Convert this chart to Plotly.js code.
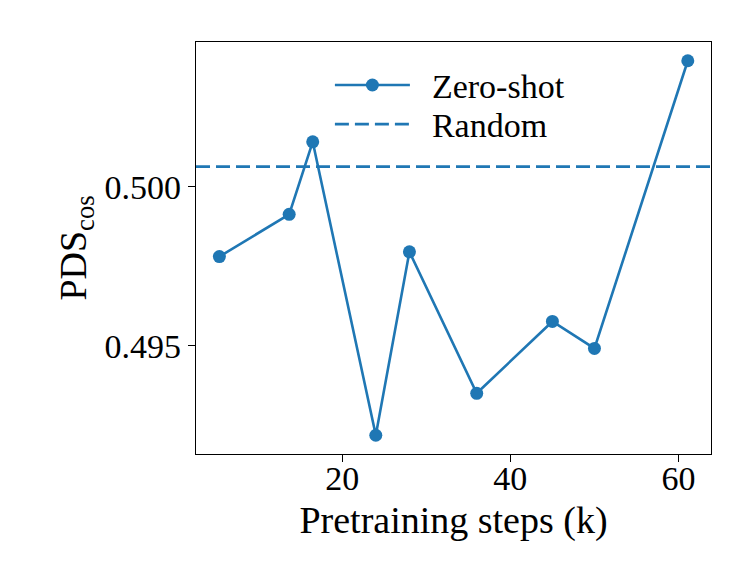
<!DOCTYPE html>
<html>
<head>
<meta charset="utf-8">
<script src="https://cdn.plot.ly/plotly-3.0.1.min.js"></script>
<style>
  html, body { margin: 0; padding: 0; background: #fff; }
  #chart { width: 753px; height: 586px; }
</style>
</head>
<body>
<div id="chart"></div>
<script>
// Pretraining steps (k) and zero-shot PDS_cos
const steps = [5.4, 13.7, 16.5, 24, 28, 36, 45, 50, 61.1];
const zeroShot = [0.4978, 0.49913, 0.50141, 0.49218, 0.49795, 0.4935, 0.49576, 0.49491, 0.50396];
const randomBaseline = 0.50063;

const xTicks = [20, 40, 60];
const yTicks = [0.495, 0.500];

const BLUE = '#1f77b4';
const SERIF = 'Liberation Serif, Times New Roman, serif';
const PAD = '\u00a0\u00a0'; // gap between legend sample and label

const traces = [{
    x: steps,
    y: zeroShot,
    name: PAD + 'Zero-shot',
    type: 'scatter',
    mode: 'lines+markers',
    line: { color: BLUE, width: 2.6 },
    marker: { color: BLUE, size: 13 },
    legend: 'legend'
}];

// one legend per row so the row spacing can match the reference
const legendBase = {
    xanchor: 'left', yanchor: 'top',
    bgcolor: 'rgba(0,0,0,0)',
    font: { family: SERIF, size: 34 },
    itemwidth: 75
};

const layout = {
    width: 753,
    height: 586,
    paper_bgcolor: '#fff',
    plot_bgcolor: '#fff',
    margin: { l: 196, r: 42, t: 42, b: 132 },
    font: { family: SERIF, color: '#000', size: 34 },
    showlegend: true,
    legend: { ...legendBase, x: 0.26, y: 0.965 },
    legend2: { ...legendBase, x: 0.26, y: 0.870 },
    xaxis: {
        range: [2.62, 63.86],
        tickvals: xTicks,
        ticks: 'outside', ticklen: 7, tickwidth: 1.3, tickcolor: '#000',
        ticklabelstandoff: -13,
        showgrid: false, zeroline: false,
        showline: true, mirror: true, linecolor: '#000', linewidth: 1.3,
        tickfont: { size: 34 },
        title: { text: 'Pretraining steps (k)', font: { size: 38 }, standoff: 10 }
    },
    yaxis: {
        range: [0.49159, 0.50455],
        tickvals: yTicks,
        tickformat: '.3f',
        ticks: 'outside', ticklen: 7, tickwidth: 1.3, tickcolor: '#000',
        showgrid: false, zeroline: false,
        showline: true, mirror: true, linecolor: '#000', linewidth: 1.3,
        tickfont: { size: 34 },
        title: { text: 'PDS<sub>cos</sub>', font: { size: 38 }, standoff: 6 }
    },
    shapes: [{
        type: 'line',
        xref: 'paper', x0: 0, x1: 1,
        yref: 'y', y0: randomBaseline, y1: randomBaseline,
        line: { color: BLUE, width: 2.6, dash: '14px,6px' },
        name: PAD + 'Random',
        showlegend: true,
        legend: 'legend2'
    }]
};

Plotly.newPlot('chart', traces, layout, { displayModeBar: false, staticPlot: true });
</script>
</body>
</html>
